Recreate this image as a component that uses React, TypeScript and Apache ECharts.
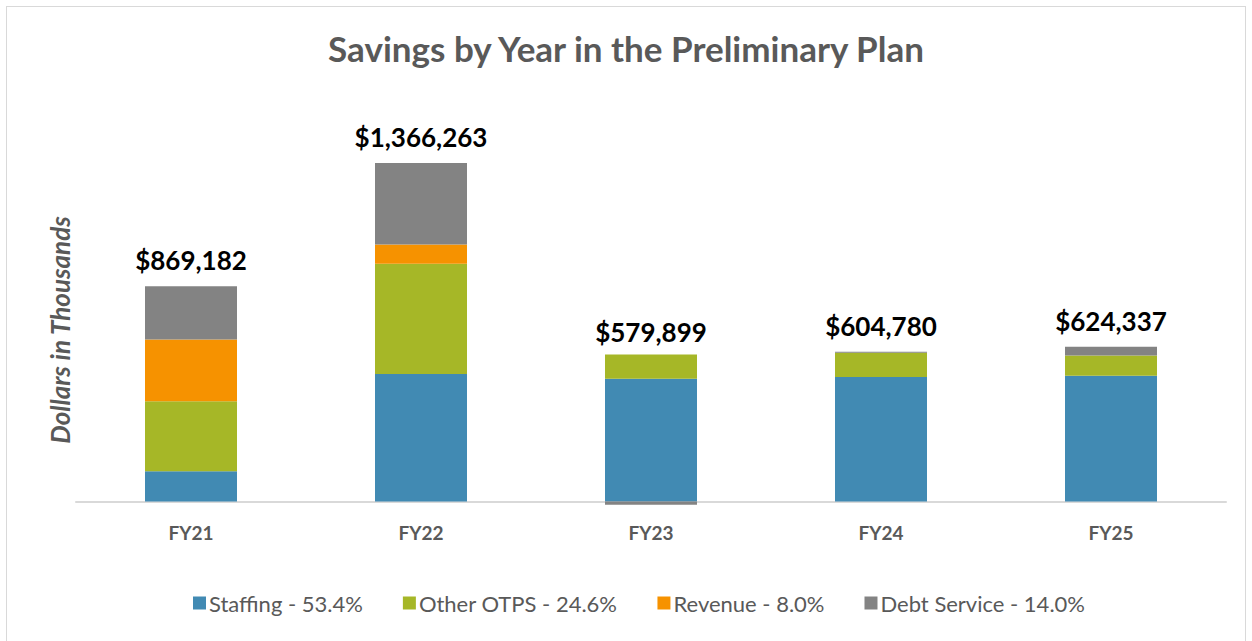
import React, { useEffect, useRef } from "react";
import * as echarts from "echarts";

const categories = ["FY21", "FY22", "FY23", "FY24", "FY25"];
const staffing = [122000, 515000, 496000, 503000, 508000];
const otherOtps = [283000, 445000, 97000, 98000, 81337];
const revenue = [249000, 77000, 0, 0, 0];
const debtService = [215182, 329263, -13101, 3780, 35000];
const totals = [869182, 1366263, 579899, 604780, 624337];
const seriesNames = ["Staffing - 53.4%", "Other OTPS - 24.6%", "Revenue - 8.0%", "Debt Service - 14.0%"];
const colors = ["#418AB3", "#A6B727", "#F69200", "#838383"];

const FONT = "Lato, 'Open Sans', sans-serif";

export default function App() {
  const ref = useRef<HTMLDivElement>(null);
  useEffect(() => {
    if (!ref.current) return;
    const chart = echarts.init(ref.current, null, { renderer: "svg" });
    const values = [staffing, otherOtps, revenue, debtService];
    const barSeries = values.map((d, i) => ({
      type: "bar",
      name: seriesNames[i],
      stack: "total",
      data: d,
      barWidth: "40%",
      itemStyle: { color: colors[i] },
    }));
    chart.setOption({
      animation: false,
      textStyle: { fontFamily: FONT },
      title: {
        text: "Savings by Year in the Preliminary Plan",
        left: "center",
        top: 25,
        textStyle: { fontSize: 35, fontWeight: "bold", color: "#595959", fontFamily: FONT },
      },
      grid: { left: 76, right: 26, top: 105, height: 409 },
      xAxis: {
        type: "category",
        data: categories,
        axisLine: { onZero: true, lineStyle: { color: "#d9d9d9", width: 2 } },
        axisTick: { show: false },
        axisLabel: { fontWeight: "bold", fontSize: 19, color: "#595959", margin: 9, fontFamily: FONT },
      },
      yAxis: {
        type: "value",
        min: -50000,
        max: 1600000,
        show: false,
      },
      legend: {
        bottom: 22,
        left: 188,
        itemWidth: 13,
        itemHeight: 13,
        itemGap: 40,
        icon: "rect",
        data: seriesNames,
        textStyle: { fontSize: 22, color: "#595959", fontFamily: FONT, padding: [0, 0, 0, -2] },
      },
      graphic: [
        {
          type: "text",
          x: 60,
          y: 330,
          rotation: Math.PI / 2,
          style: {
            text: "Dollars in Thousands",
            fontSize: 26,
            fontStyle: "italic",
            fontWeight: "bold",
            fill: "#595959",
            align: "center",
            verticalAlign: "middle",
            fontFamily: FONT,
          },
        },
      ],
      series: [
        ...barSeries,
        {
          type: "line",
          name: "totals",
          data: totals,
          symbol: "circle",
          symbolSize: 0,
          lineStyle: { opacity: 0 },
          silent: true,
          label: {
            show: true,
            position: "top",
            distance: 13,
            fontSize: 26,
            fontWeight: "bold",
            color: "#000",
            fontFamily: FONT,
            formatter: (p: any) => "$" + Number(p.value).toLocaleString("en-US"),
          },
        },
      ],
    });
    return () => chart.dispose();
  }, []);
  return (
    <div style={{ position: "fixed", left: 0, top: 0, width: 1252, height: 641, background: "#fff" }}>
      <div
        style={{
          position: "absolute",
          left: 6,
          top: 6,
          width: 1240,
          height: 640,
          border: "1px solid #d9d9d9",
          boxSizing: "border-box",
        }}
      />
      <div ref={ref} style={{ position: "absolute", left: 0, top: 0, width: 1252, height: 641 }} />
    </div>
  );
}
